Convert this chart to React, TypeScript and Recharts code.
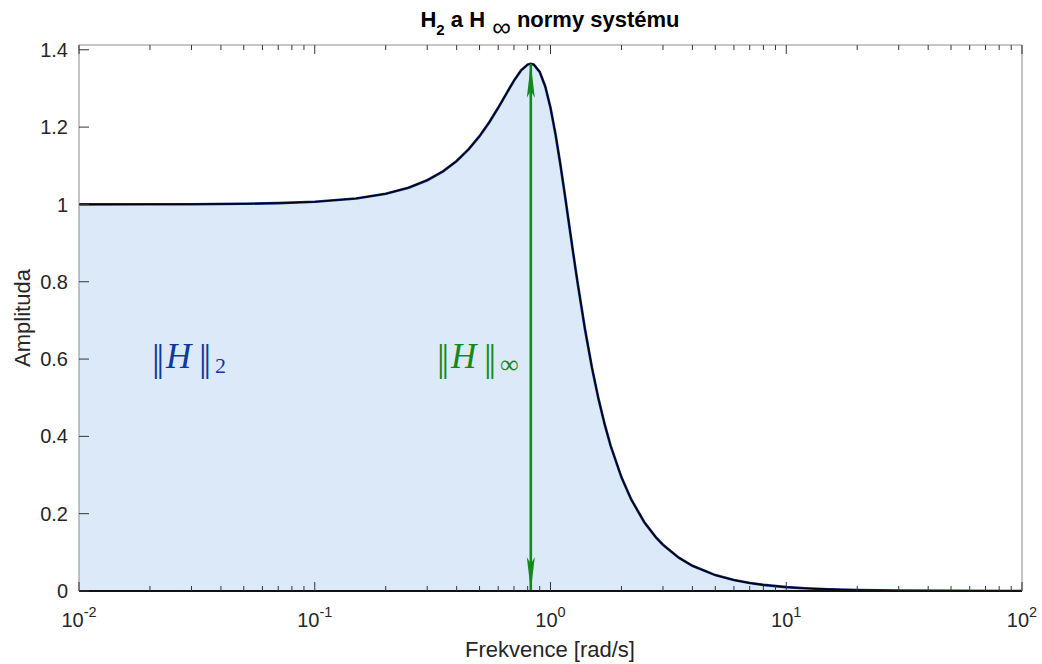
import React from 'react';
import { ComposedChart, Area, Line, XAxis, YAxis, ReferenceLine } from 'recharts';

// Frequency (rad/s) and amplitude
const freq = [0.01, 0.02, 0.03, 0.05, 0.07, 0.1, 0.15, 0.2, 0.25, 0.3, 0.35, 0.4, 0.45, 0.5, 0.55, 0.6, 0.65, 0.7, 0.75, 0.8, 0.825, 0.85, 0.9, 0.95, 1, 1.05, 1.1, 1.15, 1.2, 1.25, 1.3, 1.4, 1.5, 1.6, 1.7, 1.8, 2, 2.2, 2.5, 2.8, 3, 3.5, 4, 5, 6, 7, 8, 10, 12, 15, 20, 30, 50, 100];
const amp = [1.0001, 1.0003, 1.0006, 1.0017, 1.0033, 1.0068, 1.0154, 1.0275, 1.0432, 1.0626, 1.0857, 1.1125, 1.1429, 1.1765, 1.2126, 1.25, 1.2868, 1.3203, 1.3467, 1.3618, 1.3639, 1.3616, 1.3429, 1.3051, 1.25, 1.1817, 1.1053, 1.0258, 0.9469, 0.8716, 0.8012, 0.6779, 0.5771, 0.4956, 0.4295, 0.3755, 0.2941, 0.2367, 0.178, 0.1389, 0.1197, 0.0863, 0.0652, 0.0411, 0.0283, 0.0207, 0.0158, 0.0101, 0.007, 0.0045, 0.0025, 0.0011, 0.0004, 0.0001];

const peakFreq = 0.825;
const peakAmp = 1.3639;

const xMajor = [0.01, 0.1, 1, 10, 100];
const xMajorExp = ['-2', '-1', '0', '1', '2'];
const xMinor = [0.02, 0.03, 0.04, 0.05, 0.06, 0.07, 0.08, 0.09, 0.2, 0.3, 0.4, 0.5, 0.6, 0.7, 0.8, 0.9, 2, 3, 4, 5, 6, 7, 8, 9, 20, 30, 40, 50, 60, 70, 80, 90];
const xAllTicks = [...xMajor, ...xMinor].sort((a, b) => a - b);
const yTicks = [0, 0.2, 0.4, 0.6, 0.8, 1, 1.2, 1.4];
const xDomain = [0.01, 100];
const yDomain = [0, 1.4124];

const data = freq.map((f, i) => ({ f, a: amp[i] }));

const FONT = '"Liberation Sans", Arial, Helvetica, sans-serif';
const MATHFONT = '"Liberation Serif", "DejaVu Serif", serif';
const TXT = '#262626';
const BOX = '#8c8c8c';
const TICK = '#333333';
const GREEN = '#12891a';
const BLUE = '#0b3a9e';

const isMajor = (v: number) => xMajor.some((m) => Math.abs(m - v) < 1e-9);

const BottomTick = (props: any) => {
  const { x, y, payload } = props;
  const v = payload.value;
  const major = isMajor(v);
  const idx = xMajor.findIndex((m) => Math.abs(m - v) < 1e-9);
  return (
    <g>
      <line x1={x} y1={y} x2={x} y2={y - (major ? 9 : 5)} stroke={TICK} strokeWidth={1} />
      {major && (
        <text x={x} y={y + 36} textAnchor="middle" fill={TXT} fontSize={20} fontFamily={FONT}>
          10<tspan dy={-10} fontSize={14.5}>{xMajorExp[idx]}</tspan>
        </text>
      )}
    </g>
  );
};

const TopTick = (props: any) => {
  const { x, y, payload } = props;
  const major = isMajor(payload.value);
  return <line x1={x} y1={y} x2={x} y2={y + (major ? 9 : 5)} stroke={TICK} strokeWidth={1} />;
};

const Arrow = (props: any) => {
  const { x1, y1, y2 } = props;
  const x = x1;
  const yb = Math.max(y1, y2);
  const yt = Math.min(y1, y2);
  const L = 34;
  const W = 4;
  const N = 27;
  return (
    <g>
      <line x1={x} y1={yb} x2={x} y2={yt} stroke={GREEN} strokeWidth={2.6} />
      <polygon points={`${x},${yt} ${x - W},${yt + L} ${x},${yt + N} ${x + W},${yt + L}`} fill={GREEN} />
      <polygon points={`${x},${yb} ${x - W},${yb - L} ${x},${yb - N} ${x + W},${yb - L}`} fill={GREEN} />
    </g>
  );
};

const Norm = ({ x, color, sub, subSize }: { x: number; color: string; sub: string; subSize: number }) => (
  <text x={x} y={371} fill={color} fontFamily={MATHFONT}>
    <tspan fontSize={38} letterSpacing={-3}>||</tspan>
    <tspan fontSize={35} fontStyle="italic" dx={4.8} dy={-3}>H</tspan>
    <tspan fontSize={38} letterSpacing={-3} dx={7.7} dy={3}>||</tspan>
    <tspan fontSize={subSize} dx={6.8} dy={2}>{sub}</tspan>
  </text>
);

export default function App() {
  return (
    <div style={{ position: 'absolute', left: 0, top: 0, width: 1042, height: 664, background: '#fff' }}>
      <ComposedChart width={1042} height={664} data={data} margin={{ top: 43, right: 19, bottom: 0, left: 29 }}>
        <XAxis xAxisId="b" dataKey="f" type="number" scale="log" domain={xDomain} allowDataOverflow ticks={xAllTicks} interval={0}
          orientation="bottom" height={73} tick={<BottomTick />} tickSize={0} tickMargin={0} tickLine={false}
          axisLine={{ stroke: '#111', strokeWidth: 2 }} />
        <XAxis xAxisId="t" dataKey="f" type="number" scale="log" domain={xDomain} allowDataOverflow ticks={xAllTicks} interval={0}
          orientation="top" height={2} tick={<TopTick />} tickSize={0} tickMargin={0} tickLine={false}
          axisLine={{ stroke: BOX }} />
        <YAxis yAxisId="l" type="number" domain={yDomain} allowDataOverflow ticks={yTicks} interval={0} width={50}
          tickSize={-10} tickMargin={21} axisLine={{ stroke: BOX }} tickLine={{ stroke: TICK }}
          tick={{ fill: TXT, fontSize: 20, fontFamily: FONT }} />
        <YAxis yAxisId="r" orientation="right" type="number" domain={yDomain} allowDataOverflow ticks={yTicks} interval={0} width={1}
          tick={false} tickSize={-10} axisLine={{ stroke: BOX }} tickLine={{ stroke: TICK }} />
        <Area xAxisId="b" yAxisId="l" dataKey="a" type="linear" baseValue={0} fill="#dce9f8" fillOpacity={1}
          stroke="#0d2b7a" strokeWidth={2.6} isAnimationActive={false} dot={false} activeDot={false} />
        <Line xAxisId="b" yAxisId="l" dataKey="a" type="linear" stroke="#000" strokeWidth={1.3}
          dot={false} activeDot={false} isAnimationActive={false} />
        <ReferenceLine xAxisId="b" yAxisId="l" segment={[{ x: peakFreq, y: 0 }, { x: peakFreq, y: peakAmp }]}
          shape={<Arrow />} ifOverflow="visible" />
      </ComposedChart>
      <svg width={1042} height={664} style={{ position: 'absolute', left: 0, top: 0, pointerEvents: 'none' }}>
        <text x={550} y={27} textAnchor="middle" fill="#000" fontSize={22} fontWeight="bold" fontFamily={FONT}>
          H<tspan dy={8} fontSize={15}>2</tspan>
          <tspan dy={-8}> a H</tspan>
          <tspan dy={9} fontSize={26} fontWeight="normal">{'\u00A0\u221E'}</tspan>
          <tspan dy={-9}> normy systému</tspan>
        </text>
        <text transform="translate(30,318) rotate(-90)" textAnchor="middle" fill={TXT} fontSize={22} fontFamily={FONT}>Amplituda</text>
        <text x={550} y={657} textAnchor="middle" fill={TXT} fontSize={22} fontFamily={FONT}>Frekvence [rad/s]</text>
        <Norm x={152} color={BLUE} sub="2" subSize={22} />
        <Norm x={437} color={GREEN} sub={'\u221E'} subSize={26} />
      </svg>
    </div>
  );
}
